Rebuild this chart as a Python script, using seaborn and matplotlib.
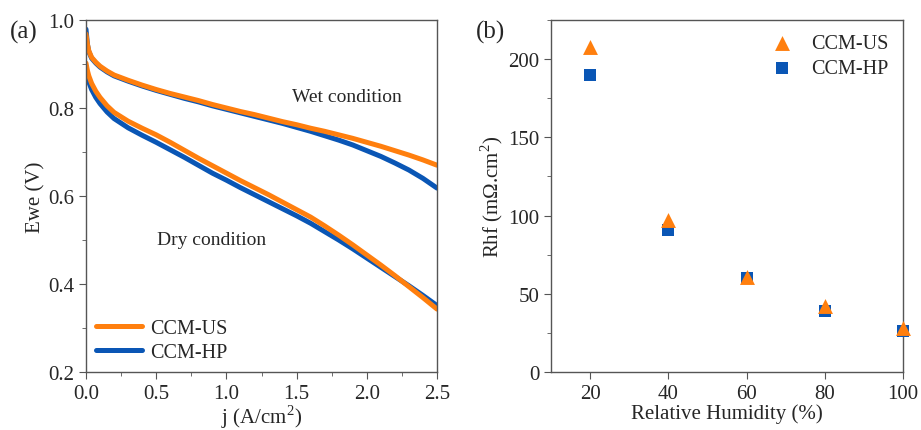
import pandas as pd
import seaborn as sns
import matplotlib.pyplot as plt
from matplotlib.ticker import AutoMinorLocator

# polarization curves (j in A/cm2, Ewe in V)
j_pts = [0.0, 0.01, 0.02, 0.04, 0.07, 0.1, 0.15, 0.2, 0.3, 0.4, 0.5, 0.6, 0.7, 0.8, 0.9,
         1.0, 1.1, 1.2, 1.3, 1.4, 1.5, 1.6, 1.7, 1.8, 1.9, 2.0, 2.1, 2.2, 2.3, 2.4, 2.5]
wet_us = [0.968, 0.945, 0.930, 0.915, 0.904, 0.895, 0.884, 0.875, 0.863, 0.852, 0.842, 0.833,
          0.825, 0.817, 0.808, 0.800, 0.792, 0.785, 0.777, 0.769, 0.762, 0.754, 0.747, 0.739,
          0.731, 0.722, 0.713, 0.703, 0.693, 0.682, 0.670]
wet_hp = [0.979, 0.945, 0.928, 0.913, 0.902, 0.893, 0.882, 0.873, 0.861, 0.850, 0.840, 0.831,
          0.822, 0.814, 0.805, 0.797, 0.789, 0.781, 0.773, 0.765, 0.756, 0.747, 0.737, 0.727,
          0.716, 0.703, 0.690, 0.675, 0.659, 0.640, 0.618]
dry_us = [0.902, 0.885, 0.873, 0.856, 0.838, 0.824, 0.805, 0.790, 0.770, 0.754, 0.739, 0.722,
          0.704, 0.686, 0.669, 0.652, 0.635, 0.619, 0.603, 0.586, 0.569, 0.552, 0.532, 0.511,
          0.489, 0.466, 0.443, 0.419, 0.394, 0.369, 0.343]
dry_hp = [0.895, 0.873, 0.859, 0.842, 0.824, 0.810, 0.791, 0.776, 0.755, 0.738, 0.722, 0.705,
          0.688, 0.670, 0.652, 0.636, 0.619, 0.603, 0.587, 0.571, 0.555, 0.538, 0.519, 0.500,
          0.480, 0.459, 0.438, 0.417, 0.396, 0.374, 0.351]

# high frequency resistance vs RH
rh = [20, 40, 60, 80, 100]
rhf_us = [208, 97, 61, 42, 28]
rhf_hp = [190, 91, 60, 39, 26]

c_us = '#ff7f0e'
c_hp = '#0a56b5'

sns.set_style('ticks')
plt.rcParams['font.family'] = ['Liberation Serif', 'DejaVu Serif']
plt.rcParams['mathtext.fontset'] = 'custom'
plt.rcParams['mathtext.rm'] = 'Liberation Serif'
plt.rcParams['lines.solid_capstyle'] = 'round'
plt.rcParams['lines.solid_joinstyle'] = 'round'

fig = plt.figure(figsize=(9.21, 4.31), dpi=100)
ax1 = fig.add_axes([86 / 921, 1 - 373 / 431, 351 / 921, 352 / 431])
ax2 = fig.add_axes([551 / 921, 1 - 373 / 431, 352 / 921, 352 / 431])

rows = []
for cond, us, hp in [('wet', wet_us, wet_hp), ('dry', dry_us, dry_hp)]:
    rows.append(pd.DataFrame({'j': j_pts, 'E': hp, 'cell': 'CCM-HP', 'cond': cond}))
    rows.append(pd.DataFrame({'j': j_pts, 'E': us, 'cell': 'CCM-US', 'cond': cond}))
df = pd.concat(rows)

sns.lineplot(data=df, x='j', y='E', hue='cell', units='cond', estimator=None,
             palette={'CCM-US': c_us, 'CCM-HP': c_hp}, hue_order=['CCM-HP', 'CCM-US'],
             lw=3.6, ax=ax1, legend=False, sort=False)

ax1.set_xlim(0, 2.5)
ax1.set_ylim(0.2, 1.0)
ax1.set_xticks([0, 0.5, 1.0, 1.5, 2.0, 2.5])
ax1.set_yticks([0.2, 0.4, 0.6, 0.8, 1.0])
ax1.set_xlabel('j (A/cm$^2$)', fontsize=15, labelpad=0)
ax1.set_ylabel('Ewe (V)', fontsize=15, labelpad=2)
ax1.text(1.47, 0.827, 'Wet condition', fontsize=14, va='center')
ax1.text(0.506, 0.502, 'Dry condition', fontsize=14, va='center')
h1, = ax1.plot([], [], color=c_us, lw=3.6, label='CCM-US')
h2, = ax1.plot([], [], color=c_hp, lw=3.6, label='CCM-HP')
ax1.legend(handles=[h1, h2], loc='lower left', frameon=False, fontsize=14.5,
           handlelength=2.3, handletextpad=0.4, borderaxespad=0.1, labelspacing=0.25)

# squares first, triangles on top
sns.scatterplot(x=rh, y=rhf_hp, marker='s', color=c_hp, s=64, linewidth=0,
                ax=ax2, clip_on=False, zorder=3, label='CCM-HP')
sns.scatterplot(x=rh, y=rhf_us, marker='^', color=c_us, s=115, linewidth=0,
                ax=ax2, clip_on=False, zorder=4, label='CCM-US')
ax2.set_xlim(10, 100)
ax2.set_ylim(0, 225)
ax2.set_xticks([20, 40, 60, 80, 100])
ax2.set_yticks([0, 50, 100, 150, 200])
ax2.set_xlabel('Relative Humidity (%)', fontsize=15, labelpad=0)
ax2.set_ylabel('Rhf (m$\\Omega$.cm$^2$)', fontsize=15, labelpad=2)
hh, ll = ax2.get_legend_handles_labels()
ax2.legend(hh[::-1], ll[::-1], loc='upper right', frameon=False, fontsize=14.5,
           handlelength=2.0, handletextpad=0.45, borderaxespad=0.3, labelspacing=0.3)

for ax in (ax1, ax2):
    for s in ax.spines.values():
        s.set_visible(True)
        s.set_color('#555555')
        s.set_linewidth(1.0)
    ax.yaxis.set_minor_locator(AutoMinorLocator(2))
    ax.tick_params(which='both', direction='out', top=False, right=False,
                   labelsize=15, color='#555555')
    ax.tick_params(which='major', length=5)
    ax.tick_params(which='minor', length=3)
ax1.xaxis.set_minor_locator(AutoMinorLocator(2))

fig.text(10 / 921, 1 - 32 / 431, '(a)', fontsize=18, va='center')
fig.text(476 / 921, 1 - 32 / 431, '(b)', fontsize=18, va='center')

fig.savefig('out.png', dpi=100)
